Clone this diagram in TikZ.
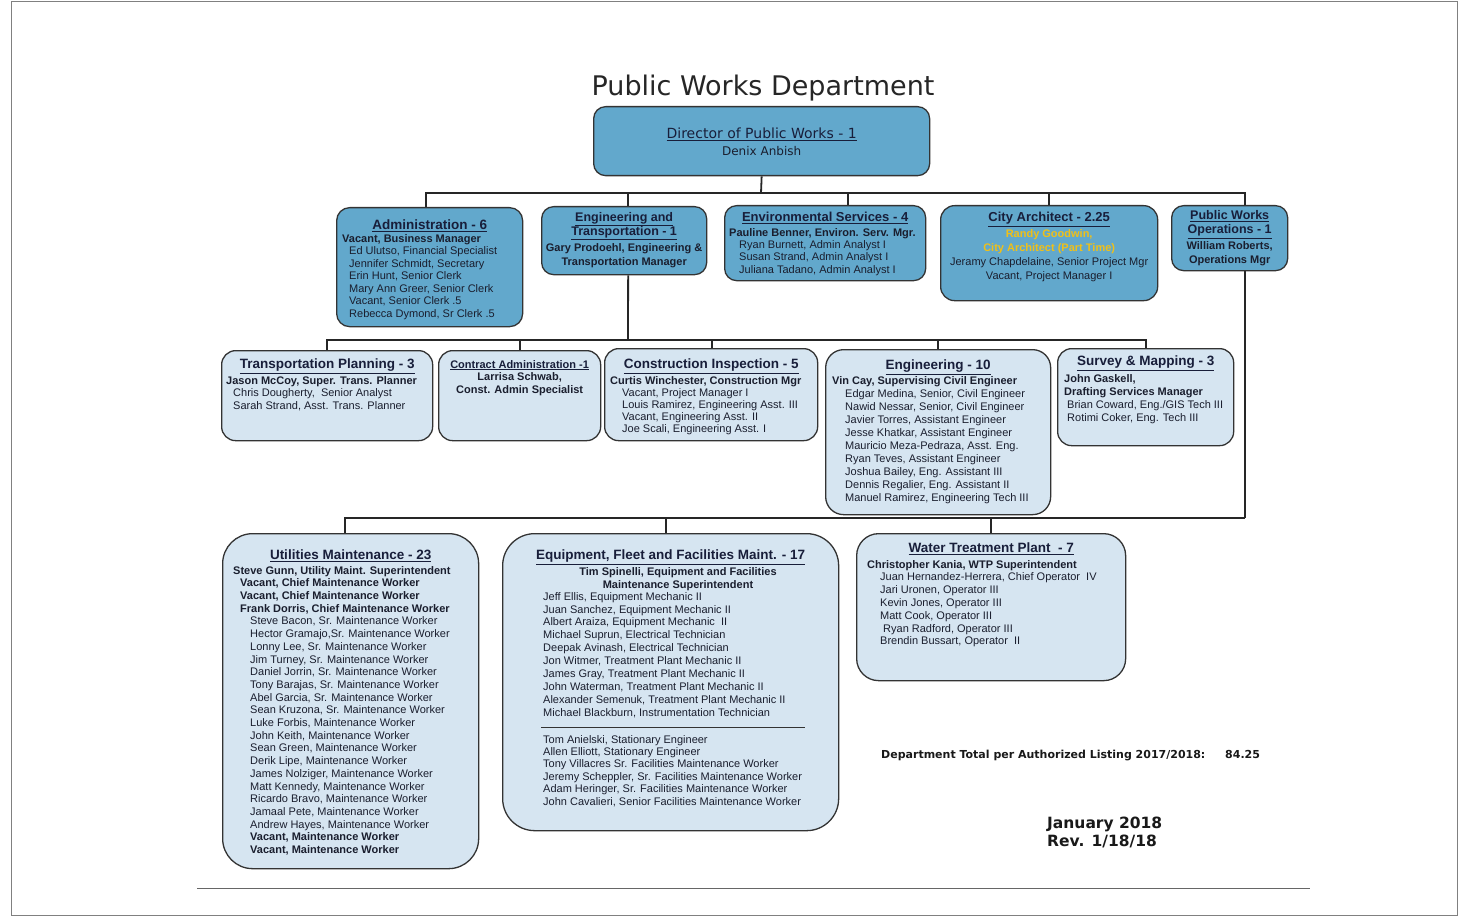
\documentclass[tikz,border=0pt]{standalone}
\usepackage{fontspec}
\setmainfont{Liberation Sans}
\newfontfamily\verdana{DejaVu Sans}
\usetikzlibrary{positioning,backgrounds}

\definecolor{deptblue}{RGB}{98,168,204}
\definecolor{unitblue}{RGB}{214,229,241}
\definecolor{headink}{RGB}{24,30,58}
\definecolor{staffink}{RGB}{26,30,46}
\definecolor{archgold}{RGB}{240,192,24}

\begin{document}
\begin{tikzpicture}[x=1pt, y=-1pt,
  deptbox/.style={draw=black!80, line width=1.3pt, fill=deptblue, rounded corners=12pt,
                  anchor=north west, inner sep=0pt},
  unitbox/.style={draw=black!80, line width=1.3pt, fill=unitblue, rounded corners=14pt,
                  anchor=north west, inner sep=0pt},
  head/.style={font=\fontsize{13.5}{15.5}\selectfont\bfseries, text=headink, inner sep=0pt, align=center},
  roster/.style={font=\fontsize{11}{12.7}\selectfont, text=staffink, inner sep=0pt, align=left,
                 anchor=north west},
  named/.style={font=\fontsize{11}{14}\selectfont, text=staffink, inner sep=0pt, align=center},
  wire/.style={line width=1.8pt, black!85},
]
\useasboundingbox (0,0) rectangle (1463,917);
\draw[black!50, line width=1pt] (11,2) rectangle (1457,915);

% --- title and director ---
\node[font=\verdana\fontsize{27}{32}\selectfont, text=black!85, inner sep=0pt] (title) at (763,88) {Public Works Department};

\node[deptbox, minimum width=336pt, minimum height=69pt] (dir) at (593,106) {};
\node[font=\verdana\fontsize{14}{17}\selectfont, text=headink, inner sep=0pt, below=22pt of dir.north] (dirhead)
  {\underline{Director of Public Works - 1}};
\node[font=\verdana\fontsize{12}{14}\selectfont, text=staffink, inner sep=0pt, below=5pt of dirhead] (dirname) {Denix Anbish};

% --- divisions under the director ---
\node[deptbox, minimum width=186pt, minimum height=119pt, rounded corners=13pt] (admin) at (336,207) {};
\node[head, below=13pt of admin.north] (adminhead) {\underline{Administration - 6}};
\node[roster, font=\fontsize{11}{12.5}\selectfont] (adminlist) at (342,234) {%
  \textbf{Vacant, Business Manager}\\
  \hspace*{7pt}Ed Ulutso, Financial Specialist\\
  \hspace*{7pt}Jennifer Schmidt, Secretary\\
  \hspace*{7pt}Erin Hunt, Senior Clerk\\
  \hspace*{7pt}Mary Ann Greer, Senior Clerk\\
  \hspace*{7pt}Vacant, Senior Clerk .5\\
  \hspace*{7pt}Rebecca Dymond, Sr Clerk .5};

\node[deptbox, minimum width=165pt, minimum height=68pt] (engtr) at (541,206) {};
\node[head, font=\fontsize{12.5}{14}\selectfont\bfseries, below=6pt of engtr.north] (engtrhead)
  {\underline{Engineering and}\\\underline{Transportation - 1}};
\node[named, below=3.5pt of engtrhead] (engtrlist)
  {\textbf{Gary Prodoehl, Engineering \&}\\\textbf{Transportation Manager}};

\node[deptbox, minimum width=201pt, minimum height=75pt] (envsv) at (724,205) {};
\node[head, font=\fontsize{13}{15}\selectfont\bfseries, below=7pt of envsv.north] (envsvhead)
  {\underline{Environmental Services - 4}};
\node[roster, font=\fontsize{11}{12.4}\selectfont] (envsvlist) at (729,228) {%
  \textbf{Pauline Benner, Environ. Serv. Mgr.}\\
  \hspace*{10pt}Ryan Burnett, Admin Analyst I\\
  \hspace*{10pt}Susan Strand, Admin Analyst I\\
  \hspace*{10pt}Juliana Tadano, Admin Analyst I};

\node[deptbox, minimum width=217pt, minimum height=95pt, rounded corners=14pt] (arch) at (940,205) {};
\node[head, font=\fontsize{13}{15}\selectfont\bfseries, below=7pt of arch.north] (archhead)
  {\underline{City Architect - 2.25}};
\node[named, below=3pt of archhead] (archlist)
  {\textcolor{archgold}{\textbf{Randy Goodwin,}}\\
   \textcolor{archgold}{\textbf{City Architect (Part Time)}}\\
   Jeramy Chapdelaine, Senior Project Mgr\\
   Vacant, Project Manager I};

\node[deptbox, minimum width=116pt, minimum height=65pt] (pwops) at (1171,205) {};
\node[head, font=\fontsize{12.5}{14.5}\selectfont\bfseries, below=5pt of pwops.north] (pwopshead)
  {\underline{Public Works}\\\underline{Operations - 1}};
\node[named, font=\fontsize{11}{13.5}\selectfont, below=3pt of pwopshead] (pwopslist)
  {\textbf{William Roberts,}\\\textbf{Operations Mgr}};

% --- engineering and transportation sections ---
\node[unitbox, minimum width=211pt, minimum height=90pt] (tplan) at (221,350) {};
\node[head, below=9pt of tplan.north] (tplanhead) {\underline{Transportation Planning - 3}};
\node[roster, font=\fontsize{11}{12.8}\selectfont] (tplanlist) at (226,376) {%
  \textbf{Jason McCoy, Super. Trans. Planner}\\
  \hspace*{7pt}Chris Dougherty,\ \ Senior Analyst\\
  \hspace*{7pt}Sarah Strand, Asst. Trans. Planner};

\node[unitbox, minimum width=162pt, minimum height=90pt] (contract) at (438,350) {};
\node[head, font=\fontsize{11}{13}\selectfont\bfseries, below=10pt of contract.north] (contracthead)
  {\underline{Contract Administration -1}};
\node[named, font=\fontsize{11}{12.5}\selectfont, below=2pt of contracthead] (contractlist)
  {\textbf{Larrisa Schwab,}\\\textbf{Const. Admin Specialist}};

\node[unitbox, minimum width=213pt, minimum height=92pt] (constr) at (604,348) {};
\node[head, below=11pt of constr.north] (constrhead) {\underline{Construction Inspection - 5}};
\node[roster, font=\fontsize{11}{12}\selectfont] (constrlist) at (610,376) {%
  \textbf{Curtis Winchester, Construction Mgr}\\
  \hspace*{12pt}Vacant, Project Manager I\\
  \hspace*{12pt}Louis Ramirez, Engineering Asst. III\\
  \hspace*{12pt}Vacant, Engineering Asst. II\\
  \hspace*{12pt}Joe Scali, Engineering Asst. I};

\node[unitbox, minimum width=225pt, minimum height=165pt, rounded corners=18pt] (engr) at (825,349) {};
\node[head, below=11pt of engr.north] (engrhead) {\underline{Engineering - 10}};
\node[roster, font=\fontsize{11}{13}\selectfont] (engrlist) at (832,376) {%
  \textbf{Vin Cay, Supervising Civil Engineer}\\
  \hspace*{13pt}Edgar Medina, Senior, Civil Engineer\\
  \hspace*{13pt}Nawid Nessar, Senior, Civil Engineer\\
  \hspace*{13pt}Javier Torres, Assistant Engineer\\
  \hspace*{13pt}Jesse Khatkar, Assistant Engineer\\
  \hspace*{13pt}Mauricio Meza-Pedraza, Asst. Eng.\\
  \hspace*{13pt}Ryan Teves, Assistant Engineer\\
  \hspace*{13pt}Joshua Bailey, Eng. Assistant III\\
  \hspace*{13pt}Dennis Regalier, Eng. Assistant II\\
  \hspace*{13pt}Manuel Ramirez, Engineering Tech III};

\node[unitbox, minimum width=176pt, minimum height=97pt] (survey) at (1057,348) {};
\node[head, below=8pt of survey.north] (surveyhead) {\underline{Survey \& Mapping - 3}};
\node[roster, font=\fontsize{11}{13}\selectfont] (surveylist) at (1064,374) {%
  \textbf{John Gaskell,}\\
  \textbf{Drafting Services Manager}\\
  \hspace*{3pt}Brian Coward, Eng./GIS Tech III\\
  \hspace*{3pt}Rotimi Coker, Eng. Tech III};

% --- operations sections ---
\node[unitbox, minimum width=256pt, minimum height=335pt, rounded corners=30pt] (util) at (222,533) {};
\node[head, below=17pt of util.north] (utilhead) {\underline{Utilities Maintenance - 23}};
\node[roster] (utillist) at (233,566) {%
  \textbf{Steve Gunn, Utility Maint. Superintendent}\\
  \hspace*{7pt}\textbf{Vacant, Chief Maintenance Worker}\\
  \hspace*{7pt}\textbf{Vacant, Chief Maintenance Worker}\\
  \hspace*{7pt}\textbf{Frank Dorris, Chief Maintenance Worker}\\
  \hspace*{17pt}Steve Bacon, Sr. Maintenance Worker\\
  \hspace*{17pt}Hector Gramajo,Sr. Maintenance Worker\\
  \hspace*{17pt}Lonny Lee, Sr. Maintenance Worker\\
  \hspace*{17pt}Jim Turney, Sr. Maintenance Worker\\
  \hspace*{17pt}Daniel Jorrin, Sr. Maintenance Worker\\
  \hspace*{17pt}Tony Barajas, Sr. Maintenance Worker\\
  \hspace*{17pt}Abel Garcia, Sr. Maintenance Worker\\
  \hspace*{17pt}Sean Kruzona, Sr. Maintenance Worker\\
  \hspace*{17pt}Luke Forbis, Maintenance Worker\\
  \hspace*{17pt}John Keith, Maintenance Worker\\
  \hspace*{17pt}Sean Green, Maintenance Worker\\
  \hspace*{17pt}Derik Lipe, Maintenance Worker\\
  \hspace*{17pt}James Nolziger, Maintenance Worker\\
  \hspace*{17pt}Matt Kennedy, Maintenance Worker\\
  \hspace*{17pt}Ricardo Bravo, Maintenance Worker\\
  \hspace*{17pt}Jamaal Pete, Maintenance Worker\\
  \hspace*{17pt}Andrew Hayes, Maintenance Worker\\
  \hspace*{17pt}\textbf{Vacant, Maintenance Worker}\\
  \hspace*{17pt}\textbf{Vacant, Maintenance Worker}};

\node[unitbox, minimum width=336pt, minimum height=297pt, rounded corners=32pt] (equip) at (502,533) {};
\node[head, below=17pt of equip.north] (equiphead) {\underline{Equipment, Fleet and Facilities Maint. - 17}};
\node[named, font=\fontsize{11}{13}\selectfont] (equipsuper) at (678,579)
  {\textbf{Tim Spinelli, Equipment and Facilities}\\\textbf{Maintenance Superintendent}};
\node[roster, font=\fontsize{11}{12.9}\selectfont] (equiplist) at (543,592) {%
  Jeff Ellis, Equipment Mechanic II\\
  Juan Sanchez, Equipment Mechanic II\\
  Albert Araiza, Equipment Mechanic\ \ II\\
  Michael Suprun, Electrical Technician\\
  Deepak Avinash, Electrical Technician\\
  Jon Witmer, Treatment Plant Mechanic II\\
  James Gray, Treatment Plant Mechanic II\\
  John Waterman, Treatment Plant Mechanic II\\
  Alexander Semenuk, Treatment Plant Mechanic II\\
  Michael Blackburn, Instrumentation Technician};
\draw[black!80, line width=0.9pt] (541,727) -- (805,727);
\node[roster, font=\fontsize{11}{12.4}\selectfont] (facilitylist) at (543,735) {%
  Tom Anielski, Stationary Engineer\\
  Allen Elliott, Stationary Engineer\\
  Tony Villacres Sr. Facilities Maintenance Worker\\
  Jeremy Scheppler, Sr. Facilities Maintenance Worker\\
  Adam Heringer, Sr. Facilities Maintenance Worker\\
  John Cavalieri, Senior Facilities Maintenance Worker};

\node[unitbox, minimum width=269pt, minimum height=147pt, rounded corners=22pt] (water) at (856,533) {};
\node[head, below=10pt of water.north] (waterhead) {\underline{Water Treatment Plant\ \ - 7}};
\node[roster, font=\fontsize{11}{12.8}\selectfont] (waterlist) at (867,560) {%
  \textbf{Christopher Kania, WTP Superintendent}\\
  \hspace*{13pt}Juan Hernandez-Herrera, Chief Operator\ \ IV\\
  \hspace*{13pt}Jari Uronen, Operator III\\
  \hspace*{13pt}Kevin Jones, Operator III\\
  \hspace*{13pt}Matt Cook, Operator III\\
  \hspace*{16pt}Ryan Radford, Operator III\\
  \hspace*{13pt}Brendin Bussart, Operator\ \ II};

% --- reporting lines ---
\begin{scope}[on background layer]
  \coordinate (busA) at (761,193);
  \coordinate (busB) at (628,340);
  \coordinate (busC) at (1245,518);
  \draw[wire] (dir.south) -- (busA);
  \draw[wire] ([xshift=-4pt]admin.north) |- (busA);
  \draw[wire] ([xshift=4pt]engtr.north) |- (busA);
  \draw[wire] ([xshift=23pt]envsv.north) |- (busA);
  \draw[wire] (arch.north) |- (busA);
  \draw[wire] (busA) -| (busC);
  \draw[wire] ([xshift=4pt]engtr.south) -- (busB);
  \draw[wire] (tplan.north) |- (busB);
  \draw[wire] (contract.north) |- (busB);
  \draw[wire] ([xshift=1pt]constr.north) |- (busB);
  \draw[wire] (engr.north) |- (busB);
  \draw[wire] (survey.north) |- (busB);
  \draw[wire] (busC) -| ([xshift=-6pt]util.north);
  \draw[wire] ([xshift=-5pt]equip.north) |- (busC);
  \draw[wire] (water.north) |- (busC);
\end{scope}

% --- totals and date ---
\node[font=\verdana\bfseries\fontsize{11}{13}\selectfont, text=black!90, anchor=west, inner sep=0pt] (total) at (881,755)
  {Department Total per Authorized Listing 2017/2018:\hspace{1.8em}84.25};
\node[font=\verdana\bfseries\fontsize{15.5}{18}\selectfont, text=black!90, align=left, anchor=north west, inner sep=0pt] (revdate) at (1047,817)
  {January 2018\\Rev. 1/18/18};
\draw[black!60, line width=0.8pt] (197,888) -- (1310,888);

\end{tikzpicture}
\end{document}
